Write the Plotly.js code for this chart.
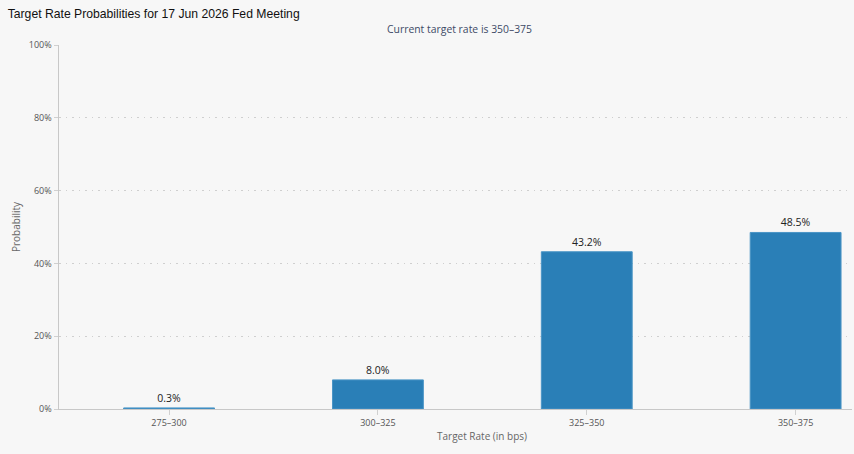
<!DOCTYPE html>
<html>
<head>
<meta charset="utf-8">
<script src="https://cdn.plot.ly/plotly-3.0.1.min.js"></script>
<style>html,body{margin:0;padding:0;background:#f7f7f7;}#chart{width:854px;height:454px;}</style>
</head>
<body>
<div id="chart"></div>
<script>
const categories = ["275–300", "300–325", "325–350", "350–375"];
const probabilities = [0.3, 8.0, 43.2, 48.5];
const labels = ["0.3%", "8.0%", "43.2%", "48.5%"];
const yTickValues = [0, 20, 40, 60, 80, 100];
const yTickLabels = ["0%", "20%", "40%", "60%", "80%", "100%"];

const FONT = "Open Sans, DejaVu Sans, sans-serif";

const trace = {
  type: "bar",
  x: categories,
  y: probabilities,
  text: labels,
  textposition: "outside",
  cliponaxis: false,
  textfont: {family: FONT, size: 10.5, color: "#222"},
  width: 0.435,
  marker: {color: "#2a7fb7", line: {color: "#4a95c6", width: 1}},
  hoverinfo: "none"
};

const layout = {
  width: 854, height: 454,
  paper_bgcolor: "#f7f7f7", plot_bgcolor: "#f7f7f7",
  margin: {l: 59, r: 2, t: 45, b: 45},
  showlegend: false,
  title: {text: "Target Rate Probabilities for 17 Jun 2026 Fed Meeting",
    x: 0.009, xanchor: "left", y: 0.979, yanchor: "top",
    font: {family: "Liberation Sans, Arial, sans-serif", size: 12.2, color: "#111"}},
  xaxis: {
    type: "category", range: [-0.527, 3.27],
    showgrid: false, showline: true, linecolor: "#c8c8c8", linewidth: 1,
    ticks: "outside", ticklen: 5, tickcolor: "#d0d0d0",
    tickfont: {family: FONT, size: 9, color: "#555"}
  },
  yaxis: {
    range: [0, 100], tickvals: yTickValues, ticktext: yTickLabels,
    showgrid: true, gridcolor: "#cfcfcf", griddash: "1.5px,5px", gridwidth: 1,
    showline: true, linecolor: "#c8c8c8", linewidth: 1.5,
    ticks: "outside", ticklen: 4, tickcolor: "#d0d0d0",
    zeroline: false,
    tickfont: {family: FONT, size: 9, color: "#555"},
    title: {text: "Probability", standoff: 6,
      font: {family: FONT, size: 10, color: "#666"}}
  },
  annotations: [{
    text: "Current target rate is 350–375", xref: "paper", yref: "paper",
    x: 0.5055, y: 1.0, yanchor: "bottom", xanchor: "center", yshift: 7, showarrow: false,
    font: {family: FONT, size: 10.4, color: "#3d4a66"}
  }, {
    text: "Target Rate (in bps)", xref: "paper", yref: "paper",
    x: 0.5334, y: 0, yanchor: "middle", xanchor: "center", yshift: -27, showarrow: false,
    font: {family: FONT, size: 10, color: "#666"}
  }]
};

Plotly.newPlot("chart", [trace], layout, {displayModeBar: false, staticPlot: true});
</script>
</body>
</html>
